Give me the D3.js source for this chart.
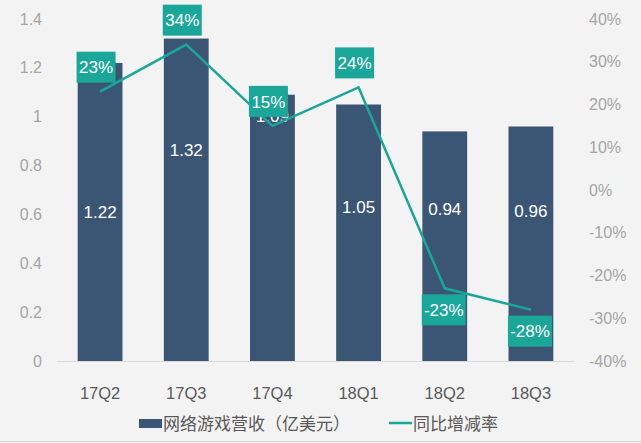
<!DOCTYPE html>
<html>
<head>
<meta charset="utf-8">
<script src="https://cdn.jsdelivr.net/npm/d3@7"></script>
<style>
  html, body { margin: 0; padding: 0; background: #f3f3f3; }
  svg { display: block; font-family: "Liberation Sans", Arial, "Noto Sans CJK SC", sans-serif; }
</style>
</head>
<body>
<div id="chart"></div>
<script>
// data
const quarters = ["17Q2", "17Q3", "17Q4", "18Q1", "18Q2", "18Q3"]
const revenue = [1.22, 1.32, 1.09, 1.05, 0.94, 0.96]
const growth = [0.23, 0.34, 0.15, 0.24, -0.23, -0.28]
const leftTicks = [0, 0.2, 0.4, 0.6, 0.8, 1, 1.2, 1.4]
const rightTicks = [-0.4, -0.3, -0.2, -0.1, 0, 0.1, 0.2, 0.3, 0.4]
const legendNames = ["网络游戏营收（亿美元）", "同比增减率"]

// where the bar value labels sit (in revenue units), placed by hand in the original
const barLabelAt = [0.61, 0.864, 1.003, 0.63, 0.622, 0.614]

const width = 641
const height = 443
const barColor = "#3b5674"
const teal = "#1ba69a"

// plain hyphen for negatives, like the original
const pct = d => d3.format(".0%")(d).replace("\u2212", "-")

const svg = d3.select("#chart").append("svg")
  .attr("width", width)
  .attr("height", height)

svg.append("rect")
  .attr("width", width).attr("height", height)
  .attr("fill", "#f3f3f3")

const x = d3.scaleBand()
  .domain(quarters)
  .range([57, 574])
  .paddingInner(0.48)
  .paddingOuter(0.24)

const y = d3.scaleLinear().domain([0, 1.4]).range([361, 19])
const y2 = d3.scaleLinear().domain([-0.4, 0.4]).range([361, 19])

// left axis labels
svg.append("g")
  .selectAll("text")
  .data(leftTicks)
  .join("text")
  .attr("x", 42)
  .attr("y", d => y(d))
  .attr("dy", "0.35em")
  .attr("text-anchor", "end")
  .attr("fill", "#a5a5a5")
  .attr("font-size", 16)
  .text(d => d3.format("~g")(d))

// right axis labels
svg.append("g")
  .selectAll("text")
  .data(rightTicks)
  .join("text")
  .attr("x", 589)
  .attr("y", d => y2(d))
  .attr("dy", "0.35em")
  .attr("fill", "#a5a5a5")
  .attr("font-size", 16)
  .text(pct)

// bars
svg.append("g")
  .selectAll("rect")
  .data(revenue)
  .join("rect")
  .attr("x", (d, i) => x(quarters[i]))
  .attr("y", d => y(d))
  .attr("width", x.bandwidth())
  .attr("height", d => y(0) - y(d))
  .attr("fill", barColor)

// baseline
svg.append("line")
  .attr("x1", 57).attr("x2", 574)
  .attr("y1", y(0) + 0.5).attr("y2", y(0) + 0.5)
  .attr("stroke", "#d9d9d9")

// bar value labels
svg.append("g")
  .selectAll("text")
  .data(revenue)
  .join("text")
  .attr("x", (d, i) => x(quarters[i]) + x.bandwidth() / 2)
  .attr("y", (d, i) => y(barLabelAt[i]))
  .attr("dy", "0.35em")
  .attr("text-anchor", "middle")
  .attr("fill", "#fff")
  .attr("font-size", 17)
  .text(d => d3.format(".2f")(d))

// category labels
svg.append("g")
  .selectAll("text")
  .data(quarters)
  .join("text")
  .attr("x", d => x(d) + x.bandwidth() / 2)
  .attr("y", 393)
  .attr("dy", "0.35em")
  .attr("text-anchor", "middle")
  .attr("fill", "#595959")
  .attr("font-size", 16.5)
  .text(d => d)

// growth line
const line = d3.line()
  .x((d, i) => x(quarters[i]) + x.bandwidth() / 2)
  .y(d => y2(d))

svg.append("path")
  .datum(growth)
  .attr("d", line)
  .attr("fill", "none")
  .attr("stroke", teal)
  .attr("stroke-width", 2.5)

// growth labels (boxes)
const boxH = 31
const lab = svg.append("g")
  .selectAll("g")
  .data(growth)
  .join("g")
  .attr("transform", (d, i) => {
    const cx = x(quarters[i]) + x.bandwidth() / 2 + (d >= 0 ? -4 : -1)
    const cy = d >= 0 ? y2(d) - 9 - boxH / 2 : y2(d) + 6 + boxH / 2
    return `translate(${cx},${cy})`
  })

lab.append("rect")
  .attr("x", d => d >= 0 ? -19.5 : -22)
  .attr("width", d => d >= 0 ? 39 : 44)
  .attr("y", -boxH / 2)
  .attr("height", boxH)
  .attr("fill", teal)

lab.append("text")
  .attr("text-anchor", "middle")
  .attr("dy", "0.36em")
  .attr("fill", "#fff")
  .attr("font-size", 17)
  .text(pct)

// legend
const legend = svg.append("g").attr("font-size", 17).attr("fill", "#595959")
legend.append("rect")
  .attr("x", 139).attr("y", 419).attr("width", 23).attr("height", 9)
  .attr("fill", barColor)
legend.append("text")
  .attr("x", 163).attr("y", 424).attr("dy", "0.36em")
  .style("font-family", "'Noto Sans CJK SC', sans-serif")
  .text(legendNames[0])
legend.append("line")
  .attr("x1", 389).attr("x2", 412).attr("y1", 423).attr("y2", 423)
  .attr("stroke", teal).attr("stroke-width", 2.5)
legend.append("text")
  .attr("x", 413).attr("y", 424).attr("dy", "0.36em")
  .style("font-family", "'Noto Sans CJK SC', sans-serif")
  .text(legendNames[1])

// bottom border
svg.append("line")
  .attr("x1", 0).attr("x2", width)
  .attr("y1", 441.5).attr("y2", 441.5)
  .attr("stroke", "#d9d9d9")
</script>
</body>
</html>
